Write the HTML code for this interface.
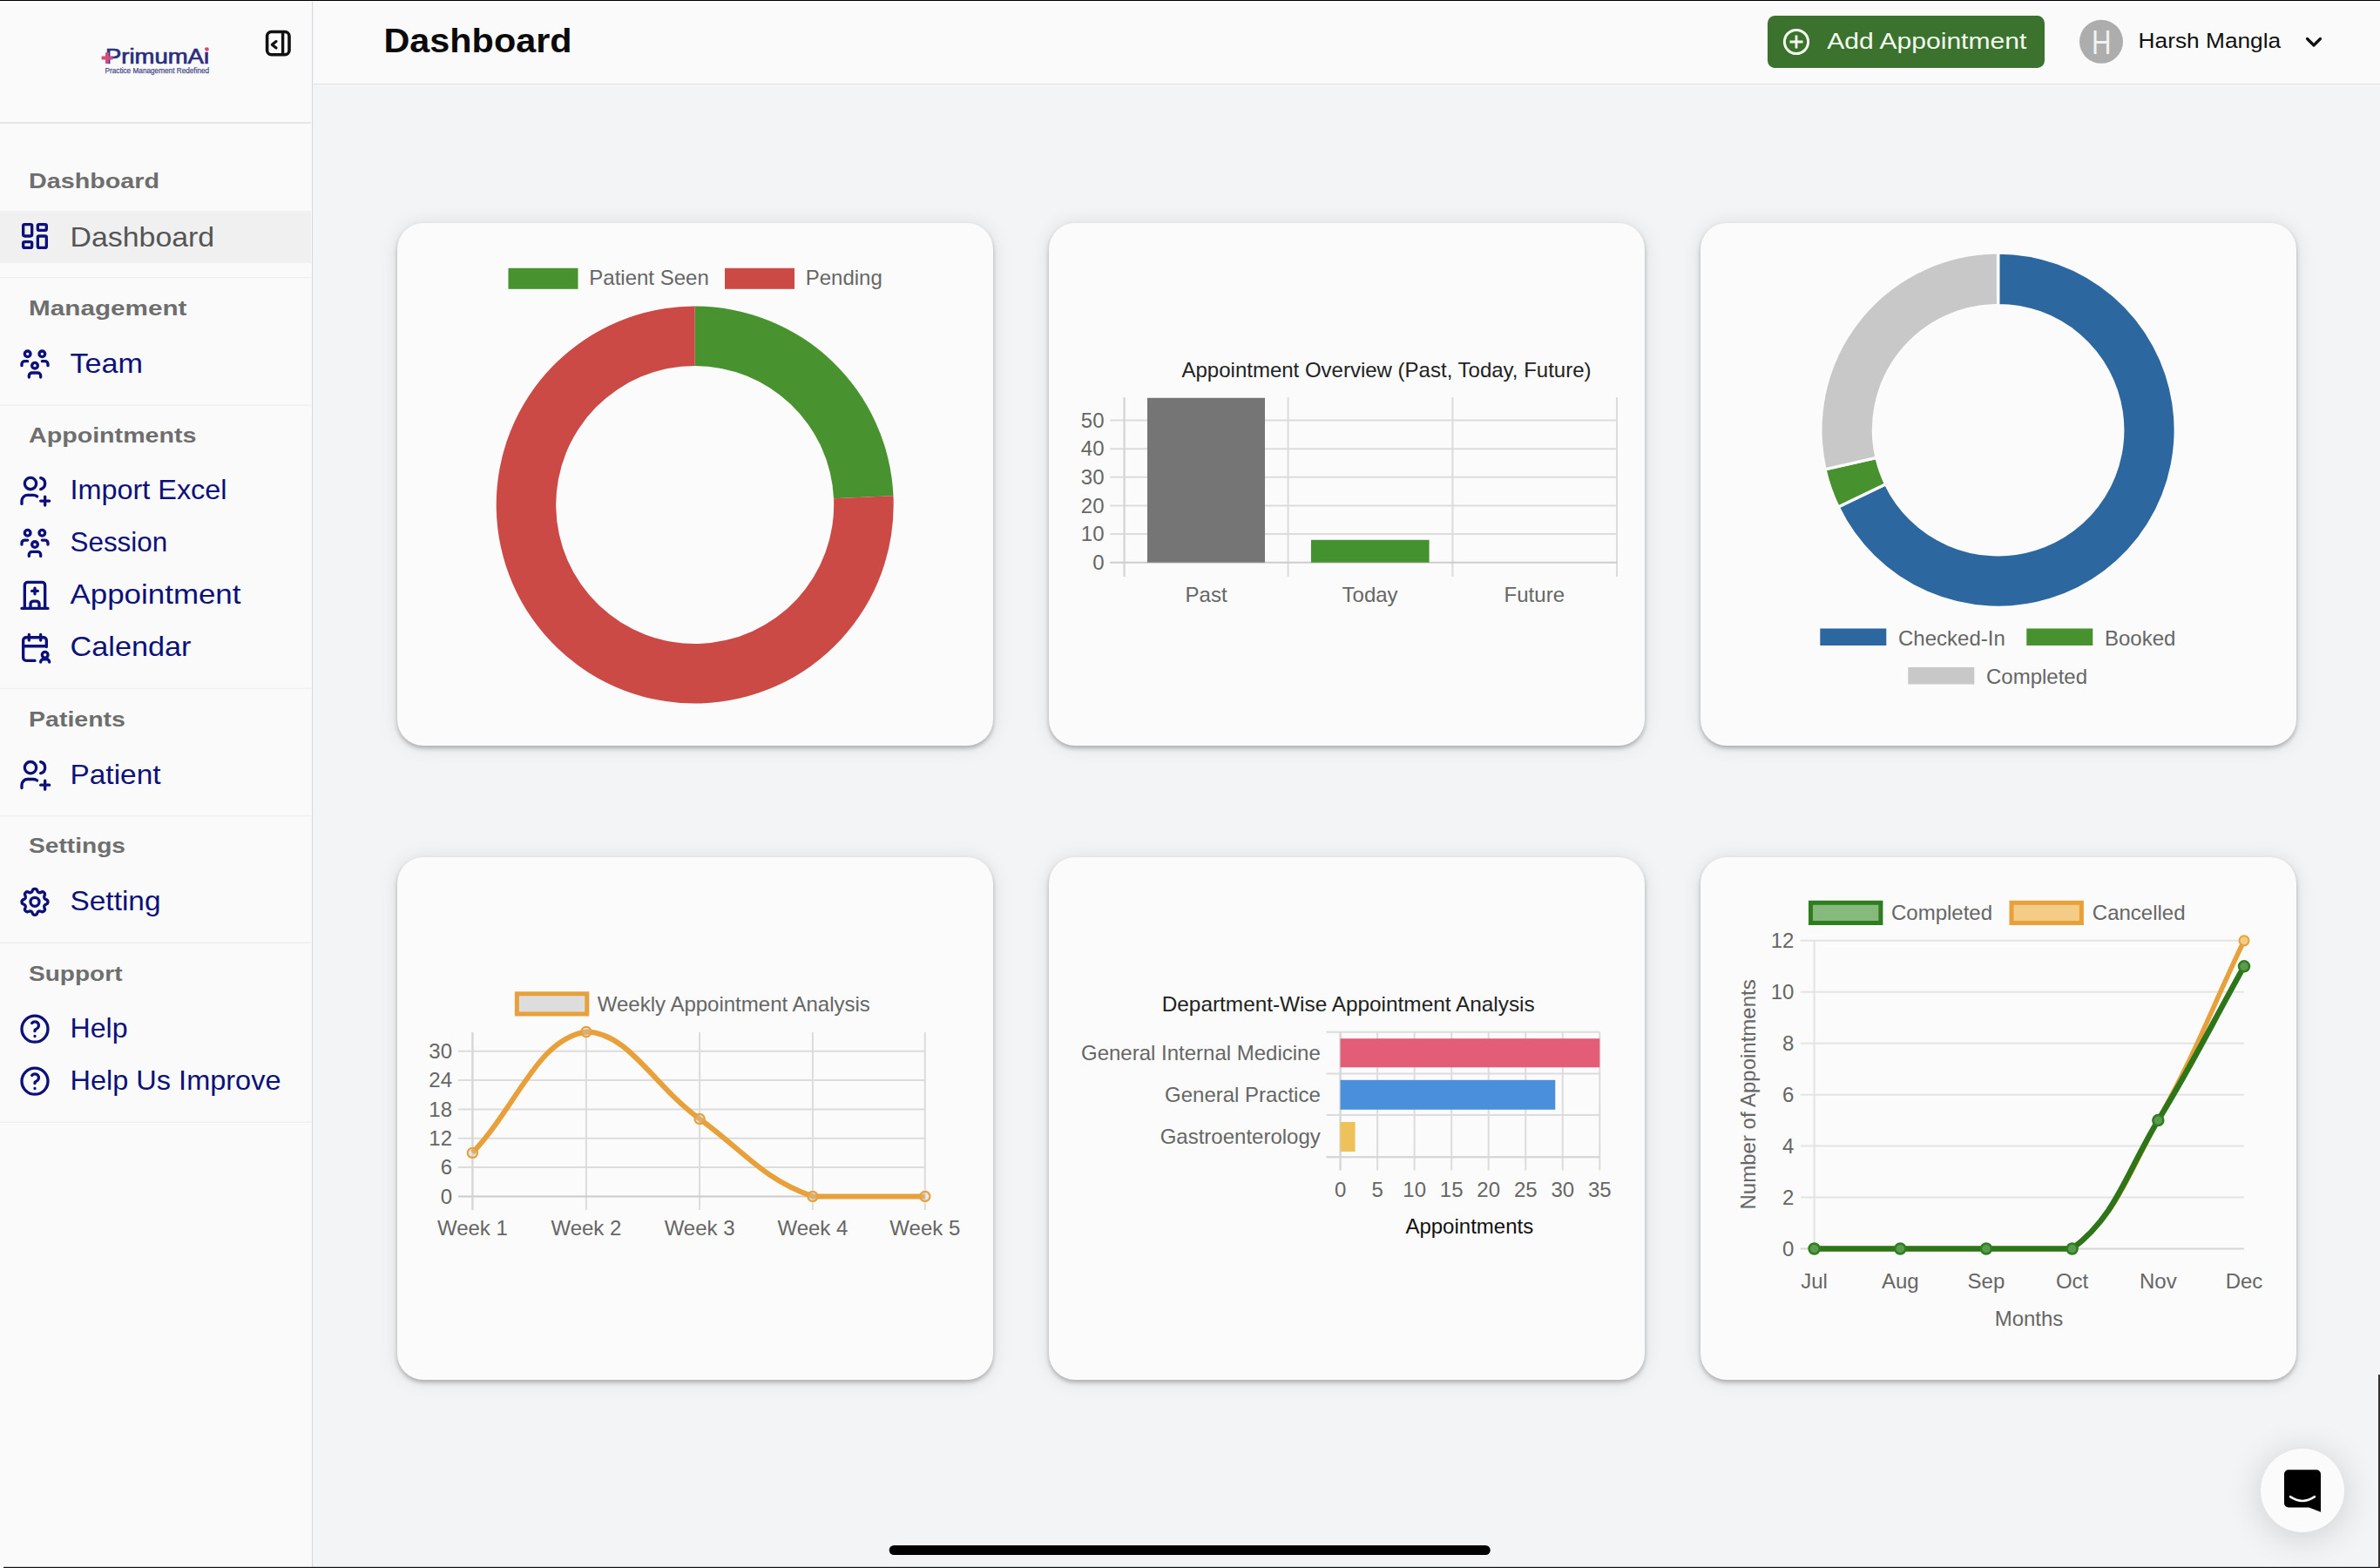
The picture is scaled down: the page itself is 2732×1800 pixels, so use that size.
<!DOCTYPE html>
<html><head><meta charset="utf-8"><style>
html,body{margin:0;padding:0;width:2732px;height:1800px;overflow:hidden;background:#F3F4F6;font-family:"Liberation Sans", sans-serif;}
.a{position:absolute;}
.card{position:absolute;width:684px;height:600px;background:#FBFBFB;border-radius:30px;box-shadow:0 3px 5px rgba(0,0,0,0.25),0 1px 22px rgba(0,0,0,0.1);}
svg text{font-family:"Liberation Sans", sans-serif;}
</style></head><body>
<div class="a" style="left:0;top:0;width:358px;height:1800px;background:#FAFAFA;border-right:1.5px solid #D8D8D8"></div>
<div class="a" style="left:359.5px;top:0;width:2372.5px;height:96px;background:#FAFAFA;border-bottom:1px solid #E0E0E0"></div>
<div class="card" style="left:456px;top:256px"></div>
<div class="card" style="left:1204px;top:256px"></div>
<div class="card" style="left:1952px;top:256px"></div>
<div class="card" style="left:456px;top:984px"></div>
<div class="card" style="left:1204px;top:984px"></div>
<div class="card" style="left:1952px;top:984px"></div>
<div class="a" style="left:2595px;top:1663px;width:96px;height:96px;border-radius:50%;background:#FBFBFB;box-shadow:0 5px 40px rgba(0,0,0,0.16)"></div>
<svg class="a" style="left:0;top:0" width="2732" height="1800" viewBox="0 0 2732 1800">
<text x="121.00" y="72.50" font-size="23" fill="#2B2E7E" text-anchor="start" font-weight="normal" textLength="119" lengthAdjust="spacingAndGlyphs" stroke="#2B2E7E" stroke-width="0.7">PrimumAi</text>
<circle cx="237.6" cy="56.6" r="2.2" fill="#D9487A"/>
<path d="M116.6 66.5H129.4M123 60.2V73" stroke="#D9487A" stroke-width="4" fill="none"/>
<text x="120.50" y="83.60" font-size="9.2" fill="#4A4C8C" text-anchor="start" font-weight="normal" textLength="119.7" lengthAdjust="spacingAndGlyphs" stroke="#4A4C8C" stroke-width="0.25">Practice Management Redefined</text>
<rect x="306.6" y="36.5" width="25.4" height="26.3" rx="5" fill="none" stroke="#111" stroke-width="3.6"/>
<line x1="324.60" y1="37.00" x2="324.60" y2="62.50" stroke="#111" stroke-width="3.4"/>
<path d="M317 47.6L312.3 51.3L317 55" stroke="#111" stroke-width="3.2" fill="none" stroke-linecap="round" stroke-linejoin="round"/>
<rect x="0.00" y="140.00" width="357.00" height="2.00" fill="#E8E8E8"/>
<rect x="0.00" y="318.00" width="357.00" height="1.50" fill="#EFEFEF"/>
<rect x="0.00" y="464.30" width="357.00" height="1.50" fill="#EFEFEF"/>
<rect x="0.00" y="789.70" width="357.00" height="1.50" fill="#EFEFEF"/>
<rect x="0.00" y="935.80" width="357.00" height="1.50" fill="#EFEFEF"/>
<rect x="0.00" y="1081.50" width="357.00" height="1.50" fill="#EFEFEF"/>
<rect x="0.00" y="1287.50" width="357.00" height="1.50" fill="#EFEFEF"/>
<rect x="0.00" y="242.00" width="357.00" height="60.00" fill="#F0F0F0"/>
<text x="33.00" y="216.00" font-size="24.3" fill="#6E6E6E" text-anchor="start" font-weight="bold" textLength="150" lengthAdjust="spacingAndGlyphs">Dashboard</text>
<text x="33.00" y="362.00" font-size="24.3" fill="#6E6E6E" text-anchor="start" font-weight="bold" textLength="181.5" lengthAdjust="spacingAndGlyphs">Management</text>
<text x="33.00" y="507.50" font-size="24.3" fill="#6E6E6E" text-anchor="start" font-weight="bold" textLength="192.5" lengthAdjust="spacingAndGlyphs">Appointments</text>
<text x="33.00" y="833.50" font-size="24.3" fill="#6E6E6E" text-anchor="start" font-weight="bold" textLength="111" lengthAdjust="spacingAndGlyphs">Patients</text>
<text x="33.00" y="979.40" font-size="24.3" fill="#6E6E6E" text-anchor="start" font-weight="bold" textLength="111" lengthAdjust="spacingAndGlyphs">Settings</text>
<text x="33.00" y="1125.90" font-size="24.3" fill="#6E6E6E" text-anchor="start" font-weight="bold" textLength="107.5" lengthAdjust="spacingAndGlyphs">Support</text>
<text x="80.50" y="283.00" font-size="31.6" fill="#555" text-anchor="start" font-weight="normal" textLength="165.7" lengthAdjust="spacingAndGlyphs">Dashboard</text>
<g transform="translate(20.00 251.00) scale(1.6667)" fill="none" stroke="#0C117A" stroke-width="2" stroke-linecap="round" stroke-linejoin="round"><path d="M5 4h4a1 1 0 0 1 1 1v6a1 1 0 0 1 -1 1h-4a1 1 0 0 1 -1 -1v-6a1 1 0 0 1 1 -1M5 16h4a1 1 0 0 1 1 1v2a1 1 0 0 1 -1 1h-4a1 1 0 0 1 -1 -1v-2a1 1 0 0 1 1 -1M15 12h4a1 1 0 0 1 1 1v6a1 1 0 0 1 -1 1h-4a1 1 0 0 1 -1 -1v-6a1 1 0 0 1 1 -1M15 4h4a1 1 0 0 1 1 1v2a1 1 0 0 1 -1 1h-4a1 1 0 0 1 -1 -1v-2a1 1 0 0 1 1 -1"/></g>
<text x="80.50" y="428.00" font-size="31.6" fill="#0C117A" text-anchor="start" font-weight="normal" textLength="83.6" lengthAdjust="spacingAndGlyphs">Team</text>
<g transform="translate(20.00 398.00) scale(1.6667)" fill="none" stroke="#0C117A" stroke-width="2" stroke-linecap="round" stroke-linejoin="round"><path d="M10 13a2 2 0 1 0 4 0a2 2 0 0 0 -4 0M8 21v-1a2 2 0 0 1 2 -2h4a2 2 0 0 1 2 2v1M15 5a2 2 0 1 0 4 0a2 2 0 0 0 -4 0M17 10h2a2 2 0 0 1 2 2v1M5 5a2 2 0 1 0 4 0a2 2 0 0 0 -4 0M3 13v-1a2 2 0 0 1 2 -2h2"/></g>
<text x="80.50" y="573.40" font-size="31.6" fill="#0C117A" text-anchor="start" font-weight="normal" textLength="180" lengthAdjust="spacingAndGlyphs">Import Excel</text>
<g transform="translate(20.00 543.40) scale(1.6667)" fill="none" stroke="#0C117A" stroke-width="2" stroke-linecap="round" stroke-linejoin="round"><path d="M5 7a4 4 0 1 0 8 0a4 4 0 1 0 -8 0M3 21v-2a4 4 0 0 1 4 -4h4c.96 0 1.86 .34 2.56 .9M16 3.13a4 4 0 0 1 0 7.75M16 19h6M19 16v6"/></g>
<text x="80.50" y="633.40" font-size="31.6" fill="#0C117A" text-anchor="start" font-weight="normal" textLength="111.7" lengthAdjust="spacingAndGlyphs">Session</text>
<g transform="translate(20.00 603.40) scale(1.6667)" fill="none" stroke="#0C117A" stroke-width="2" stroke-linecap="round" stroke-linejoin="round"><path d="M10 13a2 2 0 1 0 4 0a2 2 0 0 0 -4 0M8 21v-1a2 2 0 0 1 2 -2h4a2 2 0 0 1 2 2v1M15 5a2 2 0 1 0 4 0a2 2 0 0 0 -4 0M17 10h2a2 2 0 0 1 2 2v1M5 5a2 2 0 1 0 4 0a2 2 0 0 0 -4 0M3 13v-1a2 2 0 0 1 2 -2h2"/></g>
<text x="80.50" y="693.40" font-size="31.6" fill="#0C117A" text-anchor="start" font-weight="normal" textLength="196" lengthAdjust="spacingAndGlyphs">Appointment</text>
<g transform="translate(20.00 663.40) scale(1.6667)" fill="none" stroke="#0C117A" stroke-width="2" stroke-linecap="round" stroke-linejoin="round"><path d="M3 21h18M5 21v-16a2 2 0 0 1 2 -2h10a2 2 0 0 1 2 2v16M9 21v-3a2 2 0 0 1 2 -2h2a2 2 0 0 1 2 2v3M10 9h4M12 7v4"/></g>
<text x="80.50" y="753.40" font-size="31.6" fill="#0C117A" text-anchor="start" font-weight="normal" textLength="139" lengthAdjust="spacingAndGlyphs">Calendar</text>
<g transform="translate(20.00 723.40) scale(1.6667)" fill="none" stroke="#0C117A" stroke-width="2" stroke-linecap="round" stroke-linejoin="round"><path d="M12 21h-6a2 2 0 0 1 -2 -2v-12a2 2 0 0 1 2 -2h12a2 2 0 0 1 2 2v4.5M16 3v4M8 3v4M4 11h16M17 17a2 2 0 1 0 4 0a2 2 0 1 0 -4 0M22 22a2 2 0 0 0 -2 -2h-2a2 2 0 0 0 -2 2"/></g>
<text x="80.50" y="899.50" font-size="31.6" fill="#0C117A" text-anchor="start" font-weight="normal" textLength="104" lengthAdjust="spacingAndGlyphs">Patient</text>
<g transform="translate(20.00 869.50) scale(1.6667)" fill="none" stroke="#0C117A" stroke-width="2" stroke-linecap="round" stroke-linejoin="round"><path d="M5 7a4 4 0 1 0 8 0a4 4 0 1 0 -8 0M3 21v-2a4 4 0 0 1 4 -4h4c.96 0 1.86 .34 2.56 .9M16 3.13a4 4 0 0 1 0 7.75M16 19h6M19 16v6"/></g>
<text x="80.50" y="1045.30" font-size="31.6" fill="#0C117A" text-anchor="start" font-weight="normal" textLength="104" lengthAdjust="spacingAndGlyphs">Setting</text>
<g transform="translate(20.00 1015.30) scale(1.6667)" fill="none" stroke="#0C117A" stroke-width="2" stroke-linecap="round" stroke-linejoin="round"><path d="M10.325 4.317c.426 -1.756 2.924 -1.756 3.35 0a1.724 1.724 0 0 0 2.573 1.066c1.543 -.94 3.31 .826 2.37 2.37a1.724 1.724 0 0 0 1.065 2.572c1.756 .426 1.756 2.924 0 3.35a1.724 1.724 0 0 0 -1.066 2.573c.94 1.543 -.826 3.31 -2.37 2.37a1.724 1.724 0 0 0 -2.572 1.065c-.426 1.756 -2.924 1.756 -3.35 0a1.724 1.724 0 0 0 -2.573 -1.066c-1.543 .94 -3.31 -.826 -2.37 -2.37a1.724 1.724 0 0 0 -1.065 -2.572c-1.756 -.426 -1.756 -2.924 0 -3.35a1.724 1.724 0 0 0 1.066 -2.573c-.94 -1.543 .826 -3.31 2.37 -2.37c1 .608 2.296 .07 2.572 -1.065zM9 12a3 3 0 1 0 6 0a3 3 0 0 0 -6 0"/></g>
<text x="80.50" y="1191.20" font-size="31.6" fill="#0C117A" text-anchor="start" font-weight="normal" textLength="66" lengthAdjust="spacingAndGlyphs">Help</text>
<g transform="translate(20.00 1161.20) scale(1.6667)" fill="none" stroke="#0C117A" stroke-width="2" stroke-linecap="round" stroke-linejoin="round"><path d="M3 12a9 9 0 1 0 18 0a9 9 0 1 0 -18 0M12 17v.01M12 13.5a1.5 1.5 0 0 1 1 -1.5a2.6 2.6 0 1 0 -3 -4"/></g>
<text x="80.50" y="1251.20" font-size="31.6" fill="#0C117A" text-anchor="start" font-weight="normal" textLength="242" lengthAdjust="spacingAndGlyphs">Help Us Improve</text>
<g transform="translate(20.00 1221.20) scale(1.6667)" fill="none" stroke="#0C117A" stroke-width="2" stroke-linecap="round" stroke-linejoin="round"><path d="M3 12a9 9 0 1 0 18 0a9 9 0 1 0 -18 0M12 17v.01M12 13.5a1.5 1.5 0 0 1 1 -1.5a2.6 2.6 0 1 0 -3 -4"/></g>
<text x="440.50" y="59.80" font-size="38" fill="#0A0A0A" text-anchor="start" font-weight="bold" textLength="216" lengthAdjust="spacingAndGlyphs">Dashboard</text>
<rect x="2029" y="18" width="318" height="60" rx="8.5" fill="#3B722E"/>
<circle cx="2062" cy="48" r="13.6" fill="none" stroke="#F4FCEF" stroke-width="3"/>
<path d="M2054.5 48H2069.5M2062 40.5V55.5" stroke="#F4FCEF" stroke-width="2.8" fill="none"/>
<text x="2097.20" y="56.40" font-size="26" fill="#F4FCEF" text-anchor="start" font-weight="normal" textLength="229.2" lengthAdjust="spacingAndGlyphs">Add Appointment</text>
<circle cx="2412" cy="47.8" r="25" fill="#ADADAD"/>
<text x="2412.20" y="62.00" font-size="39" fill="#F2F2F2" text-anchor="middle" font-weight="normal" textLength="22.5" lengthAdjust="spacingAndGlyphs">H</text>
<text x="2454.60" y="55.20" font-size="24.5" fill="#111" text-anchor="start" font-weight="normal" textLength="163.6" lengthAdjust="spacingAndGlyphs">Harsh Mangla</text>
<path d="M2648.5 44.5L2656 52L2663.5 44.5" stroke="#111" stroke-width="3.2" fill="none" stroke-linecap="round" stroke-linejoin="round"/>
<path d="M797.70 351.50A228 228 0 0 1 1025.47 569.16L957.04 572.26A159.5 159.5 0 0 0 797.70 420.00Z" fill="#48922F"/>
<path d="M1025.47 569.16A228 228 0 1 1 797.70 351.50L797.70 420.00A159.5 159.5 0 1 0 957.04 572.26Z" fill="#CC4A45"/>
<rect x="583.50" y="307.80" width="80.00" height="24.00" fill="#48922F"/>
<text x="676.30" y="327.30" font-size="24" fill="#666" text-anchor="start" font-weight="normal">Patient Seen</text>
<rect x="832.00" y="307.80" width="80.00" height="24.00" fill="#CC4A45"/>
<text x="924.70" y="327.30" font-size="24" fill="#666" text-anchor="start" font-weight="normal">Pending</text>
<text x="1591.50" y="433.00" font-size="24" fill="#222" text-anchor="middle" font-weight="normal">Appointment Overview (Past, Today, Future)</text>
<line x1="1274.20" y1="613.07" x2="1856.00" y2="613.07" stroke="#DCDCDC" stroke-width="2"/>
<text x="1267.50" y="621.37" font-size="24" fill="#666" text-anchor="end" font-weight="normal">10</text>
<line x1="1274.20" y1="580.44" x2="1856.00" y2="580.44" stroke="#DCDCDC" stroke-width="2"/>
<text x="1267.50" y="588.74" font-size="24" fill="#666" text-anchor="end" font-weight="normal">20</text>
<line x1="1274.20" y1="547.81" x2="1856.00" y2="547.81" stroke="#DCDCDC" stroke-width="2"/>
<text x="1267.50" y="556.11" font-size="24" fill="#666" text-anchor="end" font-weight="normal">30</text>
<line x1="1274.20" y1="515.18" x2="1856.00" y2="515.18" stroke="#DCDCDC" stroke-width="2"/>
<text x="1267.50" y="523.48" font-size="24" fill="#666" text-anchor="end" font-weight="normal">40</text>
<line x1="1274.20" y1="482.55" x2="1856.00" y2="482.55" stroke="#DCDCDC" stroke-width="2"/>
<text x="1267.50" y="490.85" font-size="24" fill="#666" text-anchor="end" font-weight="normal">50</text>
<text x="1267.50" y="654.00" font-size="24" fill="#666" text-anchor="end" font-weight="normal">0</text>
<line x1="1290.60" y1="456.00" x2="1290.60" y2="662.00" stroke="#DCDCDC" stroke-width="2"/>
<line x1="1478.60" y1="456.00" x2="1478.60" y2="662.00" stroke="#DCDCDC" stroke-width="2"/>
<line x1="1667.40" y1="456.00" x2="1667.40" y2="662.00" stroke="#DCDCDC" stroke-width="2"/>
<line x1="1856.00" y1="456.00" x2="1856.00" y2="662.00" stroke="#DCDCDC" stroke-width="2"/>
<line x1="1274.20" y1="645.70" x2="1856.00" y2="645.70" stroke="#CCCCCC" stroke-width="2"/>
<line x1="1290.60" y1="456.00" x2="1290.60" y2="662.00" stroke="#D6D6D6" stroke-width="2"/>
<rect x="1317.00" y="456.80" width="135.00" height="188.90" fill="#757575"/>
<rect x="1505.00" y="619.80" width="135.60" height="25.90" fill="#43922F"/>
<text x="1384.60" y="691.00" font-size="24" fill="#666" text-anchor="middle" font-weight="normal">Past</text>
<text x="1572.60" y="691.00" font-size="24" fill="#666" text-anchor="middle" font-weight="normal">Today</text>
<text x="1761.30" y="691.00" font-size="24" fill="#666" text-anchor="middle" font-weight="normal">Future</text>
<path d="M2293.60 290.00A203.7 203.7 0 1 1 2110.05 582.04L2164.66 555.76A143.1 143.1 0 1 0 2293.60 350.60Z" fill="#2C67A0" stroke="#FBFBFB" stroke-width="3.4"/>
<path d="M2110.05 582.04A203.7 203.7 0 0 1 2094.96 538.83L2154.06 525.40A143.1 143.1 0 0 0 2164.66 555.76Z" fill="#47922F" stroke="#FBFBFB" stroke-width="3.4"/>
<path d="M2094.96 538.83A203.7 203.7 0 0 1 2293.60 290.00L2293.60 350.60A143.1 143.1 0 0 0 2154.06 525.40Z" fill="#C8C8C8" stroke="#FBFBFB" stroke-width="3.4"/>
<rect x="2089.30" y="721.50" width="76.00" height="19.50" fill="#2C67A0"/>
<text x="2179.00" y="740.50" font-size="24" fill="#666" text-anchor="start" font-weight="normal">Checked-In</text>
<rect x="2326.30" y="721.50" width="76.00" height="19.50" fill="#47922F"/>
<text x="2416.00" y="740.50" font-size="24" fill="#666" text-anchor="start" font-weight="normal">Booked</text>
<rect x="2190.30" y="766.00" width="76.00" height="19.50" fill="#C8C8C8"/>
<text x="2280.00" y="784.80" font-size="24" fill="#666" text-anchor="start" font-weight="normal">Completed</text>
<rect x="593.4" y="1140.8" width="80.4" height="23.2" fill="#DDDDDD" stroke="#E8A03A" stroke-width="5"/>
<text x="685.80" y="1161.00" font-size="24" fill="#666" text-anchor="start" font-weight="normal">Weekly Appointment Analysis</text>
<line x1="526.00" y1="1340.06" x2="1062.00" y2="1340.06" stroke="#DCDCDC" stroke-width="2"/>
<text x="519.00" y="1348.36" font-size="24" fill="#666" text-anchor="end" font-weight="normal">6</text>
<line x1="526.00" y1="1306.72" x2="1062.00" y2="1306.72" stroke="#DCDCDC" stroke-width="2"/>
<text x="519.00" y="1315.02" font-size="24" fill="#666" text-anchor="end" font-weight="normal">12</text>
<line x1="526.00" y1="1273.38" x2="1062.00" y2="1273.38" stroke="#DCDCDC" stroke-width="2"/>
<text x="519.00" y="1281.68" font-size="24" fill="#666" text-anchor="end" font-weight="normal">18</text>
<line x1="526.00" y1="1240.04" x2="1062.00" y2="1240.04" stroke="#DCDCDC" stroke-width="2"/>
<text x="519.00" y="1248.34" font-size="24" fill="#666" text-anchor="end" font-weight="normal">24</text>
<line x1="526.00" y1="1206.70" x2="1062.00" y2="1206.70" stroke="#DCDCDC" stroke-width="2"/>
<text x="519.00" y="1215.00" font-size="24" fill="#666" text-anchor="end" font-weight="normal">30</text>
<text x="519.00" y="1381.70" font-size="24" fill="#666" text-anchor="end" font-weight="normal">0</text>
<line x1="542.40" y1="1185.00" x2="542.40" y2="1389.00" stroke="#DCDCDC" stroke-width="2"/>
<line x1="672.90" y1="1185.00" x2="672.90" y2="1389.00" stroke="#DCDCDC" stroke-width="2"/>
<line x1="803.10" y1="1185.00" x2="803.10" y2="1389.00" stroke="#DCDCDC" stroke-width="2"/>
<line x1="932.90" y1="1185.00" x2="932.90" y2="1389.00" stroke="#DCDCDC" stroke-width="2"/>
<line x1="1061.80" y1="1185.00" x2="1061.80" y2="1389.00" stroke="#DCDCDC" stroke-width="2"/>
<line x1="526.00" y1="1373.40" x2="1062.00" y2="1373.40" stroke="#CCCCCC" stroke-width="2"/>
<line x1="542.40" y1="1185.00" x2="542.40" y2="1389.00" stroke="#D6D6D6" stroke-width="2"/>
<text x="542.40" y="1418.00" font-size="24" fill="#666" text-anchor="middle" font-weight="normal">Week 1</text>
<text x="672.90" y="1418.00" font-size="24" fill="#666" text-anchor="middle" font-weight="normal">Week 2</text>
<text x="803.10" y="1418.00" font-size="24" fill="#666" text-anchor="middle" font-weight="normal">Week 3</text>
<text x="932.90" y="1418.00" font-size="24" fill="#666" text-anchor="middle" font-weight="normal">Week 4</text>
<text x="1061.80" y="1418.00" font-size="24" fill="#666" text-anchor="middle" font-weight="normal">Week 5</text>
<path d="M542.40 1323.39C594.60 1267.82 616.88 1192.83 672.90 1184.47C721.16 1185.00 749.99 1245.90 803.10 1284.49C853.99 1321.47 876.02 1353.85 932.90 1373.40C979.50 1373.40 1010.24 1373.40 1061.80 1373.40" fill="none" stroke="#E8A03A" stroke-width="6" stroke-linejoin="round"/>
<circle cx="542.40" cy="1323.39" r="5.6" fill="rgba(200,200,200,0.35)" stroke="#E8A03A" stroke-width="2.2"/>
<circle cx="672.90" cy="1184.47" r="5.6" fill="rgba(200,200,200,0.35)" stroke="#E8A03A" stroke-width="2.2"/>
<circle cx="803.10" cy="1284.49" r="5.6" fill="rgba(200,200,200,0.35)" stroke="#E8A03A" stroke-width="2.2"/>
<circle cx="932.90" cy="1373.40" r="5.6" fill="rgba(200,200,200,0.35)" stroke="#E8A03A" stroke-width="2.2"/>
<circle cx="1061.80" cy="1373.40" r="5.6" fill="rgba(200,200,200,0.35)" stroke="#E8A03A" stroke-width="2.2"/>
<text x="1547.70" y="1161.00" font-size="24" fill="#222" text-anchor="middle" font-weight="normal" textLength="428" lengthAdjust="spacingAndGlyphs">Department-Wise Appointment Analysis</text>
<line x1="1538.60" y1="1184.70" x2="1538.60" y2="1343.50" stroke="#DCDCDC" stroke-width="2"/>
<text x="1538.60" y="1373.80" font-size="24" fill="#666" text-anchor="middle" font-weight="normal">0</text>
<line x1="1581.13" y1="1184.70" x2="1581.13" y2="1343.50" stroke="#DCDCDC" stroke-width="2"/>
<text x="1581.13" y="1373.80" font-size="24" fill="#666" text-anchor="middle" font-weight="normal">5</text>
<line x1="1623.66" y1="1184.70" x2="1623.66" y2="1343.50" stroke="#DCDCDC" stroke-width="2"/>
<text x="1623.66" y="1373.80" font-size="24" fill="#666" text-anchor="middle" font-weight="normal">10</text>
<line x1="1666.19" y1="1184.70" x2="1666.19" y2="1343.50" stroke="#DCDCDC" stroke-width="2"/>
<text x="1666.19" y="1373.80" font-size="24" fill="#666" text-anchor="middle" font-weight="normal">15</text>
<line x1="1708.71" y1="1184.70" x2="1708.71" y2="1343.50" stroke="#DCDCDC" stroke-width="2"/>
<text x="1708.71" y="1373.80" font-size="24" fill="#666" text-anchor="middle" font-weight="normal">20</text>
<line x1="1751.24" y1="1184.70" x2="1751.24" y2="1343.50" stroke="#DCDCDC" stroke-width="2"/>
<text x="1751.24" y="1373.80" font-size="24" fill="#666" text-anchor="middle" font-weight="normal">25</text>
<line x1="1793.77" y1="1184.70" x2="1793.77" y2="1343.50" stroke="#DCDCDC" stroke-width="2"/>
<text x="1793.77" y="1373.80" font-size="24" fill="#666" text-anchor="middle" font-weight="normal">30</text>
<line x1="1836.30" y1="1184.70" x2="1836.30" y2="1343.50" stroke="#DCDCDC" stroke-width="2"/>
<text x="1836.30" y="1373.80" font-size="24" fill="#666" text-anchor="middle" font-weight="normal">35</text>
<line x1="1522.50" y1="1184.70" x2="1836.30" y2="1184.70" stroke="#DCDCDC" stroke-width="2"/>
<line x1="1522.50" y1="1232.40" x2="1836.30" y2="1232.40" stroke="#DCDCDC" stroke-width="2"/>
<line x1="1522.50" y1="1280.00" x2="1836.30" y2="1280.00" stroke="#DCDCDC" stroke-width="2"/>
<line x1="1522.50" y1="1328.20" x2="1836.30" y2="1328.20" stroke="#DCDCDC" stroke-width="2"/>
<line x1="1538.60" y1="1184.70" x2="1538.60" y2="1343.50" stroke="#D6D6D6" stroke-width="2"/>
<line x1="1522.50" y1="1328.20" x2="1836.30" y2="1328.20" stroke="#D6D6D6" stroke-width="2"/>
<rect x="1538.60" y="1192.20" width="297.70" height="33.10" fill="#E35D78"/>
<rect x="1538.60" y="1239.80" width="246.67" height="34.00" fill="#4A8FDB"/>
<rect x="1538.60" y="1288.00" width="17.01" height="34.00" fill="#EEC15B"/>
<text x="1515.80" y="1217.30" font-size="24" fill="#666" text-anchor="end" font-weight="normal">General Internal Medicine</text>
<text x="1515.80" y="1265.30" font-size="24" fill="#666" text-anchor="end" font-weight="normal">General Practice</text>
<text x="1515.80" y="1313.30" font-size="24" fill="#666" text-anchor="end" font-weight="normal">Gastroenterology</text>
<text x="1686.80" y="1416.00" font-size="24" fill="#111" text-anchor="middle" font-weight="normal">Appointments</text>
<rect x="2078.5" y="1036.3" width="80.4" height="23.2" fill="#86B97C" stroke="#2E7D1E" stroke-width="5"/>
<text x="2171.00" y="1056.20" font-size="24" fill="#666" text-anchor="start" font-weight="normal">Completed</text>
<rect x="2309" y="1036.3" width="80.4" height="23.2" fill="#F3CC85" stroke="#E8A03A" stroke-width="5"/>
<text x="2401.80" y="1056.20" font-size="24" fill="#666" text-anchor="start" font-weight="normal">Cancelled</text>
<line x1="2066.80" y1="1433.50" x2="2576.00" y2="1433.50" stroke="#D6D6D6" stroke-width="2"/>
<text x="2059.40" y="1441.80" font-size="24" fill="#666" text-anchor="end" font-weight="normal">0</text>
<line x1="2066.80" y1="1374.55" x2="2576.00" y2="1374.55" stroke="#E4E4E4" stroke-width="2"/>
<text x="2059.40" y="1382.85" font-size="24" fill="#666" text-anchor="end" font-weight="normal">2</text>
<line x1="2066.80" y1="1315.60" x2="2576.00" y2="1315.60" stroke="#E4E4E4" stroke-width="2"/>
<text x="2059.40" y="1323.90" font-size="24" fill="#666" text-anchor="end" font-weight="normal">4</text>
<line x1="2066.80" y1="1256.65" x2="2576.00" y2="1256.65" stroke="#E4E4E4" stroke-width="2"/>
<text x="2059.40" y="1264.95" font-size="24" fill="#666" text-anchor="end" font-weight="normal">6</text>
<line x1="2066.80" y1="1197.70" x2="2576.00" y2="1197.70" stroke="#E4E4E4" stroke-width="2"/>
<text x="2059.40" y="1206.00" font-size="24" fill="#666" text-anchor="end" font-weight="normal">8</text>
<line x1="2066.80" y1="1138.75" x2="2576.00" y2="1138.75" stroke="#E4E4E4" stroke-width="2"/>
<text x="2059.40" y="1147.05" font-size="24" fill="#666" text-anchor="end" font-weight="normal">10</text>
<line x1="2066.80" y1="1079.80" x2="2576.00" y2="1079.80" stroke="#E4E4E4" stroke-width="2"/>
<text x="2059.40" y="1088.10" font-size="24" fill="#666" text-anchor="end" font-weight="normal">12</text>
<line x1="2082.60" y1="1079.80" x2="2082.60" y2="1433.50" stroke="#E3E3E3" stroke-width="2"/>
<text x="2082.60" y="1479.00" font-size="24" fill="#666" text-anchor="middle" font-weight="normal">Jul</text>
<text x="2181.28" y="1479.00" font-size="24" fill="#666" text-anchor="middle" font-weight="normal">Aug</text>
<text x="2279.96" y="1479.00" font-size="24" fill="#666" text-anchor="middle" font-weight="normal">Sep</text>
<text x="2378.64" y="1479.00" font-size="24" fill="#666" text-anchor="middle" font-weight="normal">Oct</text>
<text x="2477.32" y="1479.00" font-size="24" fill="#666" text-anchor="middle" font-weight="normal">Nov</text>
<text x="2576.00" y="1479.00" font-size="24" fill="#666" text-anchor="middle" font-weight="normal">Dec</text>
<text x="2329.00" y="1521.80" font-size="24" fill="#666" text-anchor="middle" font-weight="normal">Months</text>
<text x="0" y="0" font-size="24" fill="#666" text-anchor="middle" transform="translate(2015 1256.4) rotate(-90)">Number of Appointments</text>
<path d="M2082.60 1433.50C2122.07 1433.50 2141.81 1433.50 2181.28 1433.50C2220.75 1433.50 2240.49 1433.50 2279.96 1433.50C2319.43 1433.50 2350.42 1433.50 2378.64 1433.50C2429.36 1395.62 2442.84 1347.92 2477.32 1286.12C2521.78 1206.44 2536.53 1162.33 2576.00 1079.80" fill="none" stroke="#E8A03A" stroke-width="5.5" stroke-linejoin="round"/>
<circle cx="2082.60" cy="1433.50" r="5.5" fill="#F3CC85" stroke="#E8A03A" stroke-width="2"/>
<circle cx="2181.28" cy="1433.50" r="5.5" fill="#F3CC85" stroke="#E8A03A" stroke-width="2"/>
<circle cx="2279.96" cy="1433.50" r="5.5" fill="#F3CC85" stroke="#E8A03A" stroke-width="2"/>
<circle cx="2378.64" cy="1433.50" r="5.5" fill="#F3CC85" stroke="#E8A03A" stroke-width="2"/>
<circle cx="2477.32" cy="1286.12" r="5.5" fill="#F3CC85" stroke="#E8A03A" stroke-width="2"/>
<circle cx="2576.00" cy="1079.80" r="5.5" fill="#F3CC85" stroke="#E8A03A" stroke-width="2"/>
<path d="M2082.60 1433.50C2122.07 1433.50 2141.81 1433.50 2181.28 1433.50C2220.75 1433.50 2240.49 1433.50 2279.96 1433.50C2319.43 1433.50 2350.42 1433.50 2378.64 1433.50C2429.36 1395.62 2440.46 1346.68 2477.32 1286.12C2519.41 1216.99 2536.53 1180.01 2576.00 1109.27" fill="none" stroke="#2C7519" stroke-width="6.5" stroke-linejoin="round"/>
<circle cx="2082.60" cy="1433.50" r="6" fill="#5A9A4E" stroke="#2E7D1E" stroke-width="2.5"/>
<circle cx="2181.28" cy="1433.50" r="6" fill="#5A9A4E" stroke="#2E7D1E" stroke-width="2.5"/>
<circle cx="2279.96" cy="1433.50" r="6" fill="#5A9A4E" stroke="#2E7D1E" stroke-width="2.5"/>
<circle cx="2378.64" cy="1433.50" r="6" fill="#5A9A4E" stroke="#2E7D1E" stroke-width="2.5"/>
<circle cx="2477.32" cy="1286.12" r="6" fill="#5A9A4E" stroke="#2E7D1E" stroke-width="2.5"/>
<circle cx="2576.00" cy="1109.27" r="6" fill="#5A9A4E" stroke="#2E7D1E" stroke-width="2.5"/>
<path d="M2627 1687.2h32a5 5 0 0 1 5 5v43.5l-13.5-5.3h-23.5a5 5 0 0 1 -5 -5v-33.2a5 5 0 0 1 5 -5z" fill="#000"/>
<path d="M2629 1718.2q14 9.5 28 0" stroke="#FBFBFB" stroke-width="2.6" fill="none" stroke-linecap="round"/>
<rect x="1020.7" y="1774" width="690" height="11" rx="5.5" fill="#000"/>
<rect x="0" y="0" width="2732" height="1.2" fill="#000"/><rect x="0" y="1.2" width="2732" height="1" fill="#FFF"/>
<rect x="4" y="1798.8" width="2728" height="1.2" fill="#111"/>
<rect x="2730" y="1578" width="2" height="222" fill="#333"/>
</svg>
</body></html>
